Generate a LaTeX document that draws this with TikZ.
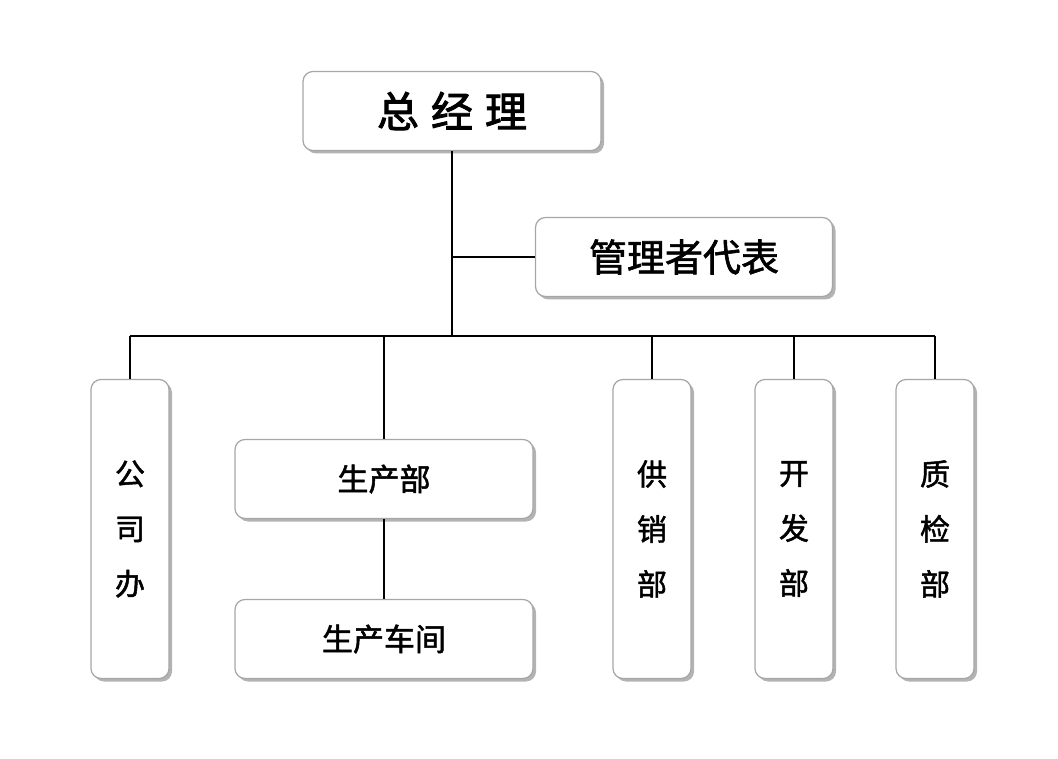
\documentclass[tikz,border=0pt]{standalone}
\usepackage{fontspec}
\newfontfamily\cjk[FakeBold=1.6]{Noto Sans CJK SC}
\newfontfamily\cjkb[FakeBold=2.2]{Noto Sans CJK SC}
\usetikzlibrary{shadows,positioning}

\begin{document}
\begin{tikzpicture}[
  x=1pt,y=-1pt,thick,
  unit/.style={rectangle,rounded corners=10pt,draw=gray!70,fill=white,
    line width=1.2pt,drop shadow={shadow xshift=3pt,shadow yshift=-3pt,
    opacity=0.6,fill=gray},font=\cjk\fontsize{31}{36}\selectfont,
    inner sep=0pt},
  wide/.style={unit,minimum width=298pt,minimum height=79pt},
  tall/.style={unit,minimum width=78pt,minimum height=299pt,align=center,
    font=\cjk\fontsize{30}{55}\selectfont},
  link/.style={draw=black,line width=1.6pt}
  ]
  \useasboundingbox (0,0) rectangle (1058,759);

  \node[wide,font=\cjkb\fontsize{42}{48}\selectfont] (gm) at (452,111) {总\hspace{12pt}经\hspace{12pt}理};
  \node[wide,minimum width=297pt,font=\cjk\fontsize{38}{44}\selectfont] (rep) at (684,257) {管理者代表};
  \node[tall] (office) at (130,529) {公\\司\\办};
  \node[wide] (prod)   at (384,479) {生产部};
  \node[wide] (shop)   at (384,639) {生产车间};
  \node[tall] (sales)  at (652,529) {供\\销\\部};
  \node[tall] (dev)    at (794,529) {开\\发\\部};
  \node[tall] (qc)     at (935,529) {质\\检\\部};

  % bus
  \coordinate (bus) at (452,336);
  \coordinate (mid) at (452,257);
  \path[link] (gm.south) -- (bus);
  \path[link] (mid) -- (rep.west);
  \path[link] (office.north |- bus) -- (qc.north |- bus);
  \foreach \n in {office,prod,sales,dev,qc}
    \path[link] (\n.north |- bus) -- (\n.north);
  \path[link] (prod) -- (shop);
\end{tikzpicture}
\end{document}
